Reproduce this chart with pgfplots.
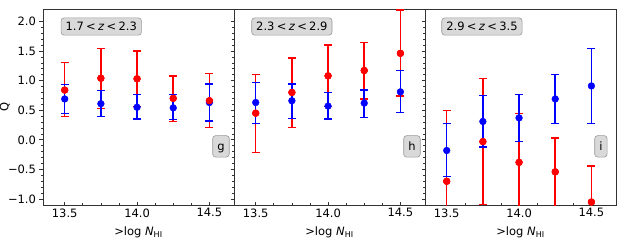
\documentclass[border=0pt]{standalone}
\usepackage{fontspec}
\setmainfont{DejaVu Sans}
\usepackage{pgfplots}
\pgfplotsset{compat=1.18}
\usepackage{pgfplotstable}

% panel g
\pgfplotstableread{
x y ep em
13.5  0.69 0.24 0.25
13.75 0.61 0.22 0.22
14.0  0.55 0.21 0.20
14.25 0.54 0.22 0.20
14.5  0.63 0.31 0.31
}\gblue
\pgfplotstableread{
x y ep em
13.5  0.84 0.46 0.45
13.75 1.04 0.50 0.51
14.0  1.03 0.47 0.47
14.25 0.70 0.38 0.39
14.5  0.66 0.46 0.45
}\gred
% panel h
\pgfplotstableread{
x y ep em
13.5  0.63 0.34 0.35
13.75 0.66 0.28 0.30
14.0  0.57 0.23 0.22
14.25 0.62 0.22 0.24
14.5  0.81 0.36 0.35
}\hblue
\pgfplotstableread{
x y ep em
13.5  0.45 0.65 0.66
13.75 0.80 0.58 0.59
14.0  1.08 0.52 0.52
14.25 1.17 0.47 0.48
14.5  1.46 0.73 0.72
}\hred
% panel i
\pgfplotstableread{
x y ep em
13.5  -0.18 0.45 0.44
13.75 0.31 0.44 0.43
14.0  0.37 0.40 0.40
14.25 0.69 0.41 0.42
14.5  0.91 0.63 0.64
}\iblue
\pgfplotstableread{
x y ep em
13.5  -0.70 1.19 1.19
13.75 -0.03 1.06 1.06
14.0  -0.38 0.82 0.82
14.25 -0.54 0.57 0.70
14.5  -1.05 0.61 0.61
}\ired

\newcommand{\fs}{\fontsize{11.5}{13}\selectfont}

\pgfplotsset{
 panel/.style={
  scale only axis, width=191pt, height=195.5pt,
  anchor=south west,
  xmin=13.35, xmax=14.67, ymin=-1.1, ymax=2.2,
  xtick={13.5,14.0,14.5}, xticklabels={13.5,14.0,14.5},
  ytick={-1,-0.5,0,0.5,1,1.5,2},
  minor x tick num=3, minor y tick num=4,
  xtick pos=bottom, ytick pos=left,
  xtick align=inside, ytick align=outside,
  major tick length=3.5pt, minor tick length=2pt,
  tick style={black!80, line width=0.8pt},
  minor tick style={line width=0.6pt},
  axis line style={black!80, line width=0.9pt},
  tick label style={font=\fs},
  xlabel={>log \textit{N}\textsubscript{HI}},
  xlabel style={font=\fs, at={(axis description cs:0.5,-0.14)}, anchor=center},
 },
 ebar/.style={only marks, mark=*, mark size=3.4pt, color=#1, mark options={fill=#1, draw=#1},
   error bars/.cd, y dir=both, y explicit,
   error bar style={color=#1, line width=1.5pt},
   error mark options={rotate=90, color=#1, line width=1.3pt, mark size=4pt}},
 pts/.style={only marks, mark=*, mark size=3.4pt, color=#1, mark options={draw=#1, fill=#1}, forget plot},
}
\tikzset{
 zbox/.style={rounded corners=3pt, fill=black!15, draw=black!40, line width=0.6pt,
   inner xsep=4.5pt, inner ysep=4.4pt, text height=8.5pt, text depth=0pt, font=\fs},
 lbox/.style={rounded corners=3pt, fill=black!15, draw=black!40, line width=0.6pt,
   inner xsep=4.6pt, inner ysep=4pt, text height=10.5pt, text depth=3pt, font=\fs, anchor=west},
}
\newcommand{\rsp}{\hspace{2.3pt}}

\begin{document}
\begin{tikzpicture}
\path[use as bounding box] (0,0) rectangle (628pt,242pt);

\begin{axis}[panel, at={(43pt,37pt)},
  yticklabels={−1.0,−0.5,0.0,0.5,1.0,1.5,2.0},
  ylabel={Q}, ylabel style={font=\fs, at={(axis description cs:-0.2,0.5)}, anchor=center}]
\addplot[ebar=red] table[x=x,y=y,y error plus=ep,y error minus=em]{\gred};
\addplot[ebar=blue] table[x=x,y=y,y error plus=ep,y error minus=em]{\gblue};
\addplot[pts=red] table[x=x,y=y]{\gred};
\node[zbox] at (rel axis cs:0.305,0.913) {1.7\rsp<\rsp\textit{z}\rsp<\rsp2.3};
\node[lbox] at (rel axis cs:0.887,0.30) {g};
\end{axis}

\begin{axis}[panel, at={(234pt,37pt)}, yticklabels={}]
\addplot[ebar=red] table[x=x,y=y,y error plus=ep,y error minus=em]{\hred};
\addplot[ebar=blue] table[x=x,y=y,y error plus=ep,y error minus=em]{\hblue};
\addplot[pts=red] table[x=x,y=y]{\hred};
\node[zbox] at (rel axis cs:0.303,0.913) {2.3\rsp<\rsp\textit{z}\rsp<\rsp2.9};
\node[lbox] at (rel axis cs:0.887,0.30) {h};
\end{axis}

\begin{axis}[panel, at={(425pt,37pt)}, yticklabels={}]
\addplot[ebar=red] table[x=x,y=y,y error plus=ep,y error minus=em]{\ired};
\addplot[ebar=blue] table[x=x,y=y,y error plus=ep,y error minus=em]{\iblue};
\addplot[pts=red] table[x=x,y=y]{\ired};
\node[zbox] at (rel axis cs:0.298,0.913) {2.9\rsp<\rsp\textit{z}\rsp<\rsp3.5};
\node[lbox] at (rel axis cs:0.887,0.30) {i};
\end{axis}
\end{tikzpicture}
\end{document}
